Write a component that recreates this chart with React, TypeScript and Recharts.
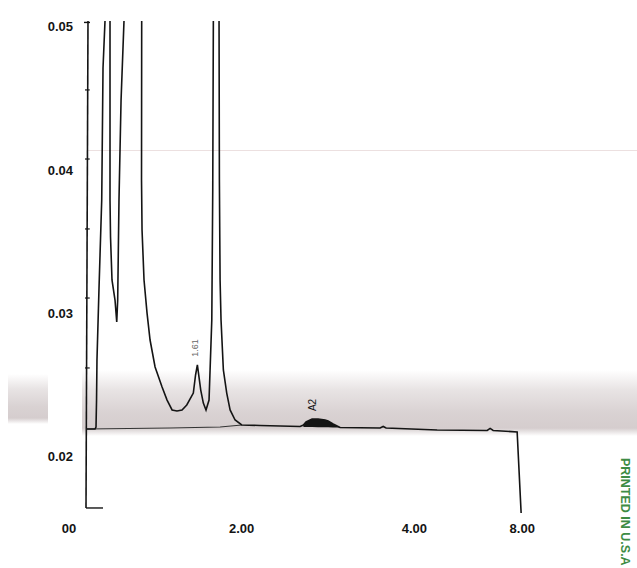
import {
  ComposedChart,
  Line,
  Area,
  XAxis,
  YAxis,
  ReferenceLine,
  ReferenceDot,
} from "recharts";

// trace: retention time (min) vs absorbance
// clipped peaks get a made-up apex above the top of the plot
const signalTime = [
  0.203, 0.301, 0.313, 0.319, 0.324, 0.348, 0.379, 0.394, 0.417, 0.446,
  0.475, 0.475, 0.481, 0.498, 0.533, 0.553, 0.564, 0.579, 0.603, 0.637,
  0.74, 0.842, 0.84, 0.846, 0.869, 0.904, 0.939, 0.997, 1.078, 1.136,
  1.194, 1.251, 1.309, 1.364, 1.44, 1.466, 1.487, 1.526, 1.556, 1.587,
  1.622, 1.654, 1.665, 1.672, 1.703, 1.738, 1.742, 1.75, 1.761, 1.788,
  1.827, 1.866, 1.924, 2.001, 2.213, 2.677, 2.715, 2.746, 2.793, 2.816,
  2.885, 2.966, 3.001, 3.059, 3.14, 3.604, 3.639, 3.673, 4.264, 4.844,
  4.878, 4.913, 5.191, 5.237,
];
const signalAbs = [
  0.02193, 0.02193, 0.02207, 0.02395, 0.02674, 0.03184, 0.03791, 0.04712, 0.0504, 0.09,
  0.0504, 0.03791, 0.03533, 0.03233, 0.03093, 0.0294, 0.03093, 0.03791, 0.04489, 0.0504,
  0.14, 0.0504, 0.03931, 0.03582, 0.03233, 0.03002, 0.02814, 0.02626, 0.02486, 0.02395,
  0.02326, 0.02319, 0.02326, 0.02361, 0.02444, 0.0257, 0.0264, 0.02465, 0.02374, 0.02326,
  0.02395, 0.02954, 0.03861, 0.0504, 0.11, 0.0504, 0.03931, 0.03233, 0.02954, 0.02605,
  0.02444, 0.02326, 0.02256, 0.02221, 0.02218, 0.02211, 0.02221, 0.02242, 0.02256, 0.02263,
  0.02263, 0.02256, 0.02249, 0.02228, 0.02204, 0.022, 0.02211, 0.022, 0.02186, 0.02183,
  0.02197, 0.02183, 0.02172, 0.01607,
];

// integrator baseline drawn under the early peaks
const baselineTime = [0.203, 1.17, 1.75, 2.001];
const baselineAbs = [0.02193, 0.022, 0.02207, 0.02221];

// filled area of peak A2
const a2Time = [2.715, 2.746, 2.793, 2.816, 2.885, 2.966, 3.001, 3.059, 3.14];
const a2Low = [0.02207, 0.02207, 0.02207, 0.02207, 0.02206, 0.02205, 0.02205, 0.02204, 0.02204];
const a2High = [0.02221, 0.02242, 0.02256, 0.02263, 0.02263, 0.02256, 0.02249, 0.02228, 0.02204];

const xTickValues = [0, 2, 4, 5.25];
const xTickLabels = ["00", "2.00", "4.00", "8.00"];
const yTickValues = [0.02, 0.03, 0.04, 0.05];
const yMinorTicks = [0.04559, 0.04077, 0.03589, 0.03107, 0.02619];

const peakLabelText = ["1.61", "A2"];
const peakLabelTime = [1.487, 2.816];
const peakLabelAbs = [0.0264, 0.02263];

const signalData = signalTime.map((t, i) => ({ t, v: signalAbs[i] }));
const baselineData = baselineTime.map((t, i) => ({ t, v: baselineAbs[i] }));
const a2Data = a2Time.map((t, i) => ({ t, range: [a2Low[i], a2High[i]] }));

const INK = "#141414";
const FONT = "'Liberation Sans', Arial, sans-serif";
const SMUDGE =
  "linear-gradient(to bottom, rgba(150,130,132,0) 0%, rgba(150,130,132,0.22) 30%, rgba(150,130,132,0.36) 65%, rgba(150,130,132,0.4) 88%, rgba(150,130,132,0) 100%)";

function YTick(props: any) {
  const { x, y, payload } = props;
  return (
    <text
      x={x + 4}
      y={y}
      dy={4.5}
      textAnchor="end"
      fontFamily={FONT}
      fontSize={13}
      fontWeight={700}
      fill={INK}
    >
      {Number(payload.value).toFixed(2)}
    </text>
  );
}

function peakLabel(text: string, dx: number, dy: number, size: number, color: string) {
  return (props: any) => {
    const vb = props.viewBox || {};
    const cx = vb.x + (vb.width || 0) / 2 + dx;
    const cy = vb.y + (vb.height || 0) / 2 + dy;
    return (
      <text
        x={0}
        y={0}
        transform={`translate(${cx},${cy}) rotate(-90)`}
        textAnchor="middle"
        dominantBaseline="central"
        fontFamily={FONT}
        fontSize={size}
        fill={color}
      >
        {text}
      </text>
    );
  };
}

const labelStyle = [
  { dx: -2, dy: -17, size: 9, color: "#666" },
  { dx: 0, dy: -14, size: 10, color: INK },
];

export default function App() {
  return (
    <div
      style={{
        position: "fixed",
        left: 0,
        top: 0,
        width: 637,
        height: 568,
        overflow: "hidden",
        background: "#fff",
      }}
    >
      {/* scan smudge and faint guide line */}
      <div
        style={{
          position: "absolute",
          left: 8,
          top: 374,
          width: 40,
          height: 50,
          background: SMUDGE,
        }}
      />
      <div
        style={{
          position: "absolute",
          left: 82,
          top: 370,
          width: 555,
          height: 66,
          background: SMUDGE,
        }}
      />
      <div
        style={{
          position: "absolute",
          left: 88,
          right: 0,
          top: 150,
          height: 1,
          background: "rgba(200,165,165,0.35)",
        }}
      />
      <div style={{ position: "absolute", left: 0, top: 0, zIndex: 1 }}>
        <ComposedChart
          width={637}
          height={568}
          margin={{ top: 21, right: 50, bottom: 24, left: 0 }}
        >
          <XAxis
            type="number"
            dataKey="t"
            domain={[0, 6]}
            allowDataOverflow
            ticks={xTickValues}
            tickFormatter={(v) => xTickLabels[xTickValues.indexOf(v)] ?? ""}
            axisLine={false}
            tickLine={false}
            tickSize={0}
            tickMargin={10}
            height={30}
            tick={{ fontFamily: FONT, fontSize: 13, fontWeight: 700, fill: INK }}
          />
          <YAxis
            type="number"
            domain={[0.016, 0.0504]}
            allowDataOverflow
            ticks={yTickValues}
            axisLine={false}
            tickLine={false}
            tickSize={0}
            tickMargin={0}
            width={69}
            tick={<YTick />}
          />

          {/* hand-drawn y axis with its small ticks */}
          <ReferenceLine
            segment={[
              { x: 0.22, y: 0.0504 },
              { x: 0.197, y: 0.01642 },
            ]}
            stroke={INK}
            strokeWidth={1.6}
          />
          <ReferenceLine
            segment={[
              { x: 0.174, y: 0.0503 },
              { x: 0.243, y: 0.0503 },
            ]}
            stroke={INK}
            strokeWidth={1.4}
          />
          <ReferenceLine
            segment={[
              { x: 0.197, y: 0.01642 },
              { x: 0.394, y: 0.01642 },
            ]}
            stroke={INK}
            strokeWidth={1.4}
          />
          {yMinorTicks.map((v) => (
            <ReferenceLine
              key={v}
              segment={[
                { x: 0.185, y: v },
                { x: 0.24, y: v },
              ]}
              stroke={INK}
              strokeWidth={1.2}
            />
          ))}

          <Area
            data={a2Data}
            dataKey="range"
            type="linear"
            stroke="none"
            fill={INK}
            fillOpacity={1}
            isAnimationActive={false}
          />
          <Line
            data={baselineData}
            dataKey="v"
            type="linear"
            stroke="#333"
            strokeWidth={1.1}
            dot={false}
            isAnimationActive={false}
          />
          <Line
            data={signalData}
            dataKey="v"
            type="linear"
            stroke={INK}
            strokeWidth={1.6}
            dot={false}
            isAnimationActive={false}
          />

          {peakLabelText.map((text, i) => (
            <ReferenceDot
              key={text}
              x={peakLabelTime[i]}
              y={peakLabelAbs[i]}
              r={0}
              fill="none"
              stroke="none"
              label={{
                content: peakLabel(
                  text,
                  labelStyle[i].dx,
                  labelStyle[i].dy,
                  labelStyle[i].size,
                  labelStyle[i].color
                ),
              }}
            />
          ))}
        </ComposedChart>
      </div>
      <div
        style={{
          position: "absolute",
          left: 618,
          top: 458,
          zIndex: 2,
          writingMode: "vertical-rl",
          fontFamily: FONT,
          fontSize: 12.5,
          fontWeight: 700,
          color: "#3e8c44",
          whiteSpace: "nowrap",
          lineHeight: 1,
        }}
      >
        PRINTED IN U.S.A
      </div>
    </div>
  );
}
